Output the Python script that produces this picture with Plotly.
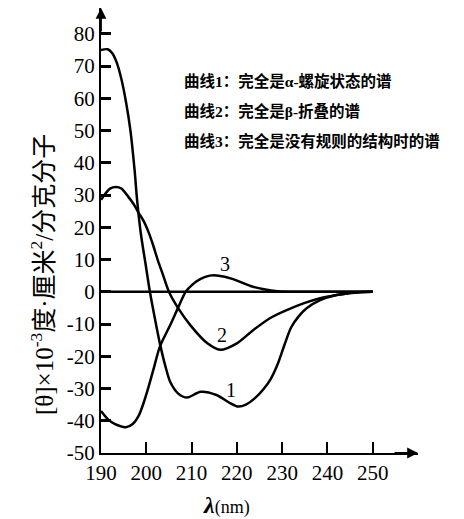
import plotly.graph_objects as go

# curve 1: alpha-helix
helix_x = [190, 191.5, 192.5, 193.5, 194.5, 195.5, 196.5, 197.4, 198, 198.8, 199.8, 200.8, 202, 203,
           204.2, 205.3, 207, 209, 212, 215.5, 218.5, 220.3, 222, 224, 226, 227.5, 229, 230.5, 232,
           233.6, 235.4, 238.4, 242, 246, 250]
helix_y = [75, 75.2, 74, 71, 66, 59, 50, 38, 28, 18, 9, 0, -9, -16,
           -23, -28, -31.5, -32.8, -31, -32, -34.5, -35.6, -35, -33, -30, -27, -22.5, -16.5, -11,
           -7.7, -5.1, -2.6, -1, -0.3, 0]

# curve 2: beta-sheet
sheet_x = [190, 191, 192, 193.3, 194.5, 196, 197.3, 198.3, 199.4, 200.5, 201.5, 202.5, 203.5, 205,
           207, 209.8, 213.5, 216.3, 220, 223.6, 227.3, 231, 234.7, 238.4, 242, 246, 250]
sheet_y = [28.5, 30.5, 32, 32.5, 32, 29.5, 27, 24.5, 22, 18.5, 14.5, 10, 6, 0,
           -5, -10.5, -16, -18, -16, -11.9, -8.2, -5.7, -3.6, -2, -1, -0.2, 0]

# curve 3: random coil
coil_x = [190, 191.5, 193, 195.5, 197, 198.3, 199.4, 200.5, 201.6, 203, 205.4, 207, 208.7, 210,
          212, 214, 216, 219, 223, 226, 229, 233, 240, 250]
coil_y = [-37, -39.5, -41, -42, -41, -38.5, -34.5, -29.5, -24, -17, -10, -5, 0, 2,
          4, 5, 5, 4, 1.8, 0.8, 0.2, 0, 0, 0]

base_x = [190, 250]
base_y = [0, 0]

x_ticks = [190, 200, 210, 220, 230, 240, 250]
y_ticks = [-50, -40, -30, -20, -10, 0, 10, 20, 30, 40, 50, 60, 70, 80]
y_ticktext = [str(v) for v in y_ticks]

curve_labels = ["1", "2", "3"]
label_x = [218.6, 216.8, 217.3]
label_y = [-30.5, -13.5, 8.6]

notes = [
    "曲线1：完全是α-螺旋状态的谱",
    "曲线2：完全是β-折叠的谱",
    "曲线3：完全是没有规则的结构时的谱",
]

serif = "Liberation Serif, Noto Sans CJK SC"

fig = go.Figure()
for xs, ys in [(base_x, base_y), (helix_x, helix_y), (sheet_x, sheet_y), (coil_x, coil_y)]:
    fig.add_trace(go.Scatter(x=xs, y=ys, mode="lines",
                             line=dict(color="black", width=2.5, shape="spline", smoothing=0.8),
                             showlegend=False, hoverinfo="skip"))

for t, lx, ly in zip(curve_labels, label_x, label_y):
    fig.add_annotation(x=lx, y=ly, text=t, showarrow=False, font=dict(family=serif, size=20, color="black"))

# notes, top right
for i, n in enumerate(notes):
    fig.add_annotation(xref="paper", yref="paper", x=0.256, y=0.835 - i * 0.067,
                       xanchor="left", yanchor="middle",
                       text="<b>" + n + "</b>", showarrow=False,
                       font=dict(family=serif, size=15.5, color="black"))

# axis titles
fig.add_annotation(xref="paper", yref="paper", x=-0.186, y=0.40, xanchor="center", yanchor="middle",
                   textangle=-90, showarrow=False,
                   text="[θ]×10<sup>-3</sup>度·厘米<sup>2</sup>/分克分子",
                   font=dict(family=serif, size=25, color="black"))
fig.add_annotation(xref="paper", yref="paper", x=0.397, y=-0.117, xanchor="center", yanchor="middle",
                   showarrow=False,
                   text="<b><i>λ</i></b><span style='font-size:18px'>(nm)</span>",
                   font=dict(family=serif, size=24, color="black"))

# arrow heads on the axes
fig.add_annotation(x=260, y=-50, ax=-25, ay=0, text="", showarrow=True, arrowhead=2,
                   arrowsize=1.2, arrowwidth=1.8, arrowcolor="black")
fig.add_annotation(x=190, y=88, ax=0, ay=25, text="", showarrow=True, arrowhead=2,
                   arrowsize=1.2, arrowwidth=1.8, arrowcolor="black")

fig.update_xaxes(range=[190, 260], tickvals=x_ticks, ticks="inside", ticklen=11, tickwidth=2,
                 tickcolor="black", showline=True, linecolor="black", linewidth=2,
                 showgrid=False, zeroline=False, tickfont=dict(family=serif, size=21, color="black"))
fig.update_yaxes(range=[-50, 88], tickvals=y_ticks, ticktext=y_ticktext, ticks="inside", ticklen=10,
                 tickwidth=2.5, tickcolor="black", showline=True, linecolor="black", linewidth=2,
                 showgrid=False, zeroline=False, tickfont=dict(family=serif, size=21, color="black"))

# page body has an 8px margin, so the figure is a bit smaller than the window
fig.update_layout(width=456, height=511, margin=dict(l=93, r=46, t=0, b=66),
                  plot_bgcolor="white", paper_bgcolor="white")

fig.write_html("out.html")
